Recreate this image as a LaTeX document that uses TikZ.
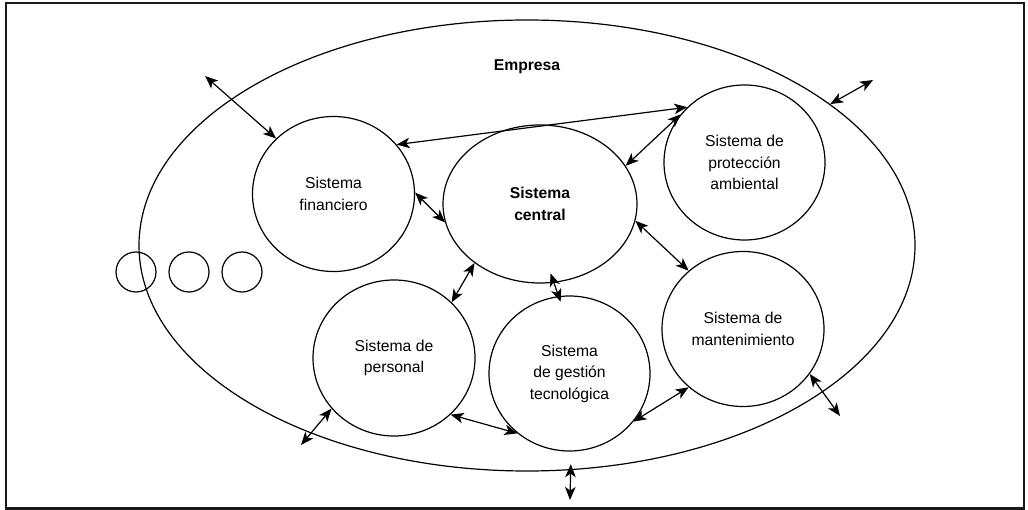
\documentclass[tikz,border=0pt]{standalone}
\usepackage{fontspec}
\setmainfont{Liberation Sans}
\usetikzlibrary{shapes.geometric,arrows.meta}
\begin{document}
\begin{tikzpicture}[x=1pt,y=-1pt,
  sys/.style={draw, ellipse, line width=1.2pt, inner sep=0pt, align=center, font=\fontsize{15.7}{21.5}\selectfont},
  dot/.style={draw, circle, line width=1.2pt, minimum size=40pt, inner sep=0pt},
  link/.style={line width=1.2pt, {Stealth[length=13pt,width=10.5pt,inset=3.5pt]}-{Stealth[length=13pt,width=10.5pt,inset=3.5pt]}},
  lbl/.style={font=\fontsize{15.7}{21.5}\selectfont\bfseries}]
\useasboundingbox (0,0) rectangle (1028,510);
\draw[line width=2.2pt, black!90] (6,3) rectangle (1024,508.5);
% company
\node[sys, minimum width=776pt, minimum height=451pt] (emp) at (527,245.5) {};
\node[lbl] (emplbl) at (527,67) {Empresa};
% small circles
\node[dot] (d1) at (136,272) {};
\node[dot] (d2) at (189,272) {};
\node[dot] (d3) at (242,272) {};
% systems
\node[sys, minimum width=162pt, minimum height=155pt] (fin) at (333.5,194) {Sistema\\financiero};
\node[sys, minimum width=194pt, minimum height=158pt, font=\fontsize{15.7}{21.5}\selectfont\bfseries] (cen) at (540,204) {Sistema\\central};
\node[sys, minimum width=161pt, minimum height=155pt] (prot) at (744.5,162.5) {Sistema de\\protección\\ambiental};
\node[sys, minimum width=162pt, minimum height=156pt] (pers) at (394,358) {Sistema de\\personal};
\node[sys, minimum width=161pt, minimum height=155pt] (gest) at (569.5,373.5) {Sistema\\de gestión\\tecnológica};
\node[sys, minimum width=162pt, minimum height=155pt] (mant) at (743,329) {Sistema de\\mantenimiento};
% free ends
\coordinate (o1) at (205,76);
\coordinate (o2) at (873,80);
\coordinate (o3) at (840,416);
\coordinate (o4) at (570,500);
\coordinate (o5) at (301,445);
% connectors
\draw[link] (o1) -- (fin.136.7);
\draw[link] (fin.38.2) -- (prot.136);
\draw[link] (cen.24.4) -- (prot.143.2);
\draw[link] (fin.1.4) -- (cen.191.4);
\draw[link] (cen.-10) -- (mant.133.5);
\draw[link] (cen.222.2) -- (pers.44);
\draw[link, shorten <=-10pt, shorten >=-6pt] (cen.280.8) -- (gest.98.7);
\draw[link] (pers.-45.5) -- (gest.229.1);
\draw[link] (gest.-37.8) -- (mant.227);
\draw[link] (pers.219.4) -- (o5);
\draw[link, shorten <=-6pt] (emp.281.2) -- (o4);
\draw[link] (mant.-34.8) -- (o3);
\draw[link] (emp.25) -- (o2);
\end{tikzpicture}
\end{document}
